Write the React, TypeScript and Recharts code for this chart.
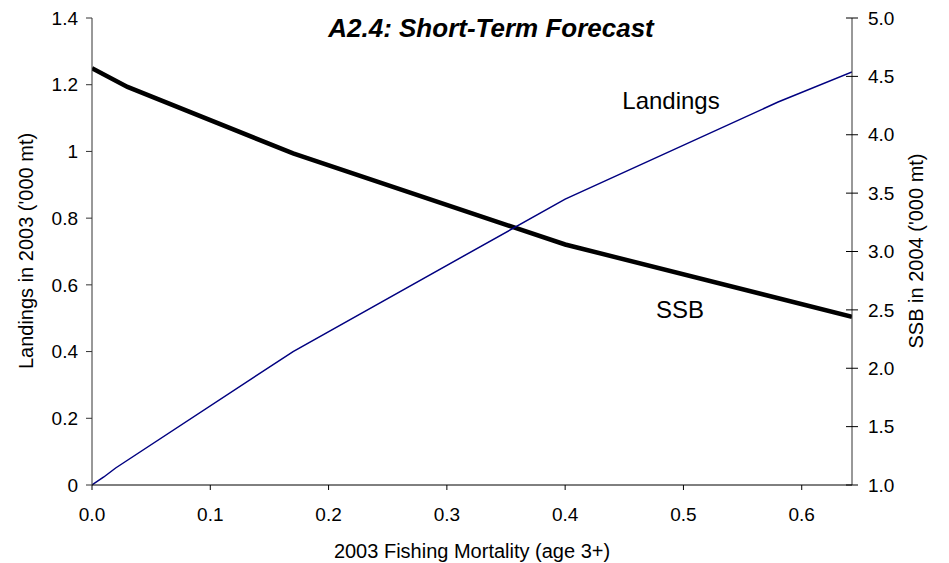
import React from "react"
import { ComposedChart, Line, XAxis, YAxis } from "recharts"

// fishing mortality values
const fLandings = [0, 0.01, 0.02, 0.17, 0.4, 0.58, 0.6425]
const landings = [0, 0.024, 0.051, 0.4, 0.857, 1.148, 1.238]

const fSsb = [0, 0.03, 0.17, 0.4, 0.6425]
const ssb = [4.57, 4.41, 3.84, 3.06, 2.44]

const xTicks = [0, 0.1, 0.2, 0.3, 0.4, 0.5, 0.6]
const leftTicks = [0, 0.2, 0.4, 0.6, 0.8, 1, 1.2, 1.4]
const rightTicks = [1, 1.5, 2, 2.5, 3, 3.5, 4, 4.5, 5]

const landingsData = fLandings.map((f, i) => ({ f, landings: landings[i] }))
const ssbData = fSsb.map((f, i) => ({ f, ssb: ssb[i] }))

const font = "'Liberation Sans', Arial, sans-serif"

function RightTick(props: any) {
  const { x, y, payload } = props
  return (
    <g>
      <line x1={x - 6} x2={x + 6} y1={y} y2={y} stroke="#000" />
      <text x={x + 16} y={y} dy="0.35em" fontSize={19} fill="#000" fontFamily={font}>
        {Number(payload.value).toFixed(1)}
      </text>
    </g>
  )
}

export default function App() {
  return (
    <div style={{ position: "absolute", left: 0, top: 0, background: "#fff" }}>
      <ComposedChart
        width={949}
        height={563}
        margin={{ top: 18, right: 0, bottom: 0, left: 0 }}
        style={{ fontFamily: font }}
      >
        <XAxis
          type="number"
          dataKey="f"
          domain={[0, 0.6425]}
          ticks={xTicks}
          allowDataOverflow
          height={78}
          tickSize={5}
          tickMargin={18}
          stroke="#000"
          tick={{ fill: "#000", fontSize: 19 }}
          tickFormatter={(v: number) => v.toFixed(1)}
        />
        <YAxis
          yAxisId="left"
          orientation="left"
          width={92}
          domain={[0, 1.4]}
          ticks={leftTicks}
          tickSize={6}
          tickMargin={8}
          stroke="#333"
          tick={{ fill: "#000", fontSize: 19 }}
          tickFormatter={(v: number) => String(Number(v.toFixed(1)))}
        />
        <YAxis
          yAxisId="right"
          orientation="right"
          width={97}
          domain={[1, 5]}
          ticks={rightTicks}
          tickLine={false}
          tickSize={0}
          tickMargin={0}
          stroke="#333"
          tick={<RightTick />}
        />
        <Line
          yAxisId="right"
          data={ssbData}
          dataKey="ssb"
          type="linear"
          stroke="#000"
          strokeWidth={4.5}
          dot={false}
          isAnimationActive={false}
        />
        <Line
          yAxisId="left"
          data={landingsData}
          dataKey="landings"
          type="linear"
          stroke="#000080"
          strokeWidth={1.5}
          dot={false}
          isAnimationActive={false}
        />
        <text x={491} y={37} textAnchor="middle" fontSize={26} fontWeight="bold" fontStyle="italic" fontFamily={font}>
          A2.4: Short-Term Forecast
        </text>
        <text x={671} y={109} textAnchor="middle" fontSize={24} fontFamily={font}>
          Landings
        </text>
        <text x={680} y={318} textAnchor="middle" fontSize={24} fontFamily={font}>
          SSB
        </text>
        <text x={472} y={558} textAnchor="middle" fontSize={20} fontFamily={font}>
          2003 Fishing Mortality (age 3+)
        </text>
        <text x={33} y={251} textAnchor="middle" fontSize={20} fontFamily={font} transform="rotate(-90, 33, 251)">
          Landings in 2003 ('000 mt)
        </text>
        <text x={923} y={251} textAnchor="middle" fontSize={20} fontFamily={font} transform="rotate(-90, 923, 251)">
          SSB in 2004 ('000 mt)
        </text>
      </ComposedChart>
    </div>
  )
}
